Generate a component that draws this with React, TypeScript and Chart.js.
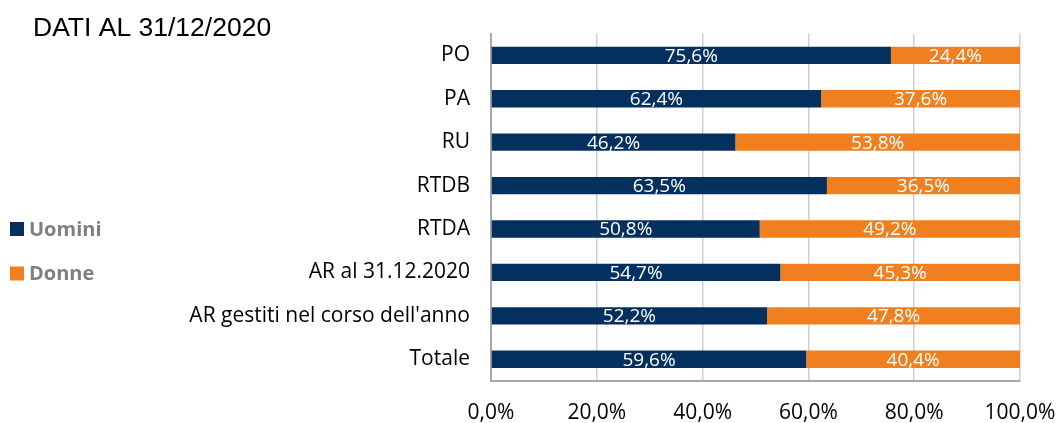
import React, { useEffect, useRef } from "react";
import { Chart, registerables } from "chart.js";

Chart.register(...registerables);

const categories = [
  "PO",
  "PA",
  "RU",
  "RTDB",
  "RTDA",
  "AR al 31.12.2020",
  "AR gestiti nel corso dell'anno",
  "Totale",
];
const uomini = [75.6, 62.4, 46.2, 63.5, 50.8, 54.7, 52.2, 59.6];
const donne = [24.4, 37.6, 53.8, 36.5, 49.2, 45.3, 47.8, 40.4];
const seriesNames = ["Uomini", "Donne"];
const seriesColors = ["#03305F", "#F0801F"];
const titleText = "DATI AL 31/12/2020";

const fmt = (v: number) => v.toFixed(1).replace(".", ",") + "%";

export default function App() {
  const ref = useRef<HTMLCanvasElement | null>(null);
  useEffect(() => {
    document.body.style.margin = "0";
    const canvas = ref.current;
    if (!canvas) return;

    const overlay = {
      id: "overlay",
      afterDatasetsDraw(chart: any) {
        const ctx = chart.ctx;
        ctx.save();
        ctx.fillStyle = "#ffffff";
        ctx.font = "19px 'Open Sans'";
        ctx.textAlign = "center";
        ctx.textBaseline = "middle";
        chart.data.datasets.forEach((ds: any, di: number) => {
          const meta = chart.getDatasetMeta(di);
          meta.data.forEach((el: any, i: number) => {
            const cx = (el.x + el.base) / 2;
            ctx.fillText(fmt(ds.data[i]), cx, el.y + 1);
          });
        });
        ctx.restore();
      },
      afterDraw(chart: any) {
        const ctx = chart.ctx;
        ctx.save();
        ctx.fillStyle = "#000000";
        ctx.font = "26.5px 'Liberation Sans'";
        ctx.textAlign = "left";
        ctx.textBaseline = "alphabetic";
        ctx.fillText(titleText, 33, 36);
        ctx.font = "bold 20px 'Open Sans'";
        ctx.textBaseline = "middle";
        chart.data.datasets.forEach((ds: any, di: number) => {
          const cy = 229 + di * 44.5;
          ctx.fillStyle = ds.backgroundColor;
          ctx.fillRect(10, cy - 7, 14, 14);
          ctx.fillStyle = "#7F7F7F";
          ctx.fillText(ds.label, 29, cy + 1);
        });
        ctx.restore();
      },
    };

    const chart = new Chart(canvas, {
      type: "bar",
      data: {
        labels: categories,
        datasets: [
          {
            label: seriesNames[0],
            data: uomini,
            backgroundColor: seriesColors[0],
            borderWidth: 0,
            categoryPercentage: 1,
            barPercentage: 0.4,
          },
          {
            label: seriesNames[1],
            data: donne,
            backgroundColor: seriesColors[1],
            borderWidth: 0,
            categoryPercentage: 1,
            barPercentage: 0.4,
          },
        ],
      },
      options: {
        indexAxis: "y",
        responsive: false,
        animation: false,
        layout: { padding: { top: 32, right: 39, left: 0, bottom: 0 } },
        plugins: {
          legend: { display: false },
          title: { display: false },
          tooltip: { enabled: false },
        },
        scales: {
          x: {
            stacked: true,
            min: 0,
            max: 100,
            ticks: {
              stepSize: 20,
              callback: (v: any) => fmt(Number(v)),
              color: "#000000",
              font: { family: "'Open Sans'", size: 21 },
              padding: 19,
              maxRotation: 0,
            },
            grid: { color: "#CFCFCF", lineWidth: 1.5, drawTicks: false },
            border: { display: true, color: "#A8A8A8", width: 2 },
            afterFit: (scale: any) => {
              scale.height = 42;
              scale.paddingLeft = 0;
              scale.paddingRight = 0;
            },
          },
          y: {
            stacked: true,
            ticks: {
              color: "#000000",
              font: { family: "'Open Sans'", size: 21 },
              padding: 21,
            },
            grid: { display: false, drawTicks: false },
            border: { display: true, color: "#A8A8A8", width: 2 },
            afterFit: (scale: any) => {
              scale.width = 491;
            },
          },
        },
      },
      plugins: [overlay],
    });
    return () => chart.destroy();
  }, []);

  return (
    <div style={{ width: 1059, height: 423 }}>
      <canvas ref={ref} width={1059} height={423} />
    </div>
  );
}
